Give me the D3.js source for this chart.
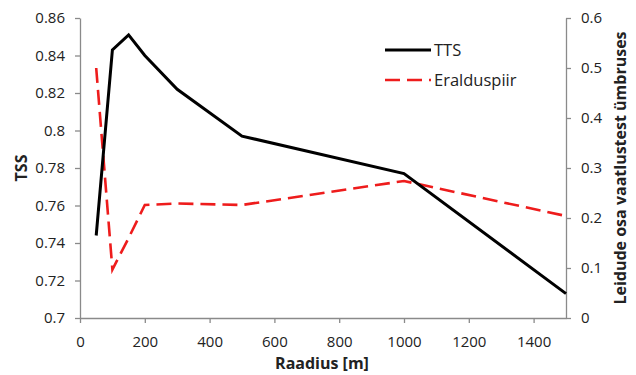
<!DOCTYPE html>
<html>
<head>
<meta charset="utf-8">
<script src="https://cdn.jsdelivr.net/npm/d3@7/dist/d3.min.js"></script>
<style>
  body { margin: 0; background: #fff; }
  svg text { font-family: "Open Sans", "Liberation Sans", sans-serif; fill: #222; }
</style>
</head>
<body>
<svg id="chart" width="636" height="375"></svg>
<script>
// Search radius in metres
const radius = [50, 100, 150, 200, 300, 500, 1000, 1500];
// TSS per radius (left axis)
const tss = [0.744, 0.843, 0.851, 0.840, 0.822, 0.797, 0.777, 0.713];
// Threshold per radius (right axis)
const eralduspiir = [0.50, 0.097, 0.16, 0.226, 0.229, 0.226, 0.274, 0.204];

const xTicks = [0, 200, 400, 600, 800, 1000, 1200, 1400];
const yLeftTicks = [0.7, 0.72, 0.74, 0.76, 0.78, 0.8, 0.82, 0.84, 0.86];
const yRightTicks = [0, 0.1, 0.2, 0.3, 0.4, 0.5, 0.6];

const svg = d3.select("#chart");
const plotLeft = 80, plotRight = 566, plotTop = 18, plotBottom = 318;

const x = d3.scaleLinear().domain([0, 1500]).range([plotLeft, plotRight]);
const yL = d3.scaleLinear().domain([0.7, 0.86]).range([plotBottom, plotTop]);
const yR = d3.scaleLinear().domain([0, 0.6]).range([plotBottom, plotTop]);

function styleAxis(g) {
  g.selectAll("path, line").attr("stroke", "#8a8a8a").attr("stroke-width", 1.3);
  g.selectAll("text").attr("font-size", 15).attr("fill", "#222")
    .style("font-family", "'Open Sans', 'Liberation Sans', sans-serif");
}

svg.append("g").attr("transform", `translate(0,${plotBottom})`)
  .call(d3.axisBottom(x).tickValues(xTicks).tickSize(5).tickSizeOuter(0).tickPadding(13).tickFormat(d3.format("d")))
  .call(styleAxis);

svg.append("g").attr("transform", `translate(${plotLeft},0)`)
  .call(d3.axisLeft(yL).tickValues(yLeftTicks).tickSize(5).tickSizeOuter(0).tickPadding(10).tickFormat(d => String(+d.toFixed(2))))
  .call(styleAxis);

svg.append("g").attr("transform", `translate(${plotRight},0)`)
  .call(d3.axisRight(yR).tickValues(yRightTicks).tickSize(5).tickSizeOuter(0).tickPadding(10).tickFormat(d => String(+d.toFixed(1))))
  .call(styleAxis);

// Threshold line (dashed red)
svg.append("path")
  .datum(radius.map((r, i) => [r, eralduspiir[i]]))
  .attr("fill", "none").attr("stroke", "#ee1c1c").attr("stroke-width", 2.6)
  .attr("stroke-dasharray", "15,7")
  .attr("d", d3.line().x(d => x(d[0])).y(d => yR(d[1])));

// TSS line (solid black)
svg.append("path")
  .datum(radius.map((r, i) => [r, tss[i]]))
  .attr("fill", "none").attr("stroke", "#000").attr("stroke-width", 3)
  .attr("stroke-linejoin", "miter")
  .attr("d", d3.line().x(d => x(d[0])).y(d => yL(d[1])));

// Axis titles
svg.append("text").attr("x", 322).attr("y", 369).attr("text-anchor", "middle")
  .attr("font-size", 16).attr("font-weight", "bold").text("Raadius [m]");
svg.append("text").attr("transform", "translate(27,168) rotate(-90)").attr("text-anchor", "middle")
  .attr("font-size", 16).attr("font-weight", "bold").text("TSS");
svg.append("text").attr("transform", "translate(626,168) rotate(-90)").attr("text-anchor", "middle")
  .attr("font-size", 16).attr("font-weight", "bold").text("Leidude osa vaatlustest ümbruses");

// Legend
const legend = svg.append("g");
legend.append("line").attr("x1", 385).attr("x2", 431).attr("y1", 50).attr("y2", 50)
  .attr("stroke", "#000").attr("stroke-width", 3);
legend.append("text").attr("x", 434).attr("y", 56).attr("font-size", 16.5).text("TTS");
legend.append("line").attr("x1", 385).attr("x2", 431).attr("y1", 80).attr("y2", 80)
  .attr("stroke", "#ee1c1c").attr("stroke-width", 2.6).attr("stroke-dasharray", "15,7");
legend.append("text").attr("x", 434).attr("y", 86).attr("font-size", 16.5).text("Eralduspiir");
</script>
</body>
</html>
